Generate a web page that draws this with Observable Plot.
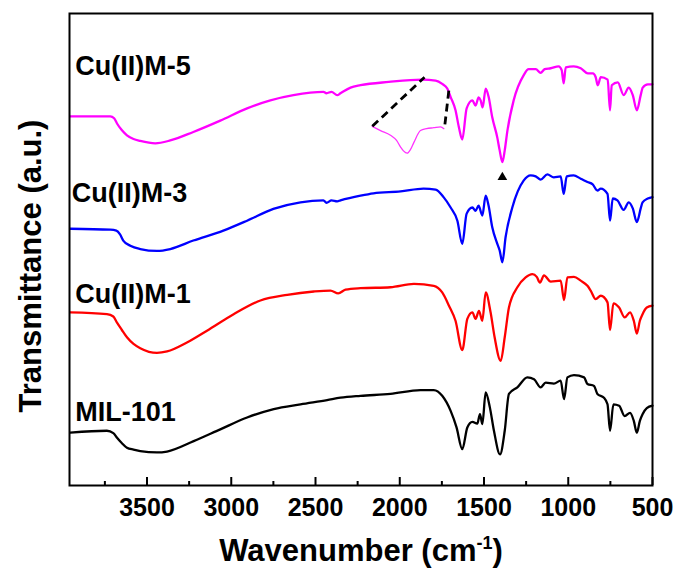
<!DOCTYPE html>
<html><head><meta charset="utf-8">
<script src="https://cdn.jsdelivr.net/npm/d3@7"></script>
<script src="https://cdn.jsdelivr.net/npm/@observablehq/plot@0.6"></script>
<style>
body{margin:0;background:#fff;}
svg{font-family: Arial, "Liberation Sans", sans-serif;}
</style>
</head><body><div id="chart"></div>
<script>
// ---- data (wavenumber in cm-1, transmittance in arbitrary units) ----
const cu5W = [3955,3718,3695,3678,3650,3619,3580,3540,3451,3362,3225,3065,2906,2768,2631,2453,2435,2405,2371,2352,2292,2233,2065,1866,1787,1748,1718,1698,1669,1649,1629,1603,1569,1550,1532,1520,1508,1490,1473,1451,1421,1407,1391,1377,1361,1324,1265,1235,1193,1164,1140,1104,1057,1039,1027,1015,968,926,884,854,837,825,807,766,752,742,706,671,641,617,593,570,558,528,500];
const cu5T = [78.2,78.2,77.8,76.7,75.3,74.2,73.4,73.0,72.5,73.1,74.9,77.3,79.9,81.6,82.7,83.4,83.1,83.4,82.7,83.1,84.3,84.8,85.5,86.0,85.8,85.1,84.1,82.3,79.5,75.9,73.3,79.9,81.6,80.5,82.2,81.6,80.1,84.1,82.4,78.0,73.7,71.0,68.5,71.0,75.2,81.6,86.9,88.2,88.2,87.4,88.2,88.4,88.8,88.0,85.2,88.6,88.8,88.4,87.3,87.3,86.5,84.8,86.5,86.0,79.5,84.8,85.4,82.7,84.3,82.7,79.5,82.7,84.3,85.0,85.0];

const cu3W = [3955,3718,3682,3660,3641,3599,3540,3441,3362,3225,3047,2906,2750,2589,2453,2435,2405,2371,2352,2233,2156,1995,1859,1787,1740,1698,1658,1629,1603,1569,1550,1532,1510,1490,1473,1451,1421,1407,1391,1372,1332,1265,1223,1193,1164,1124,1086,1045,1027,1009,968,926,886,855,827,807,767,752,736,708,671,641,617,593,570,559,528,500];
const cu3T = [54.4,54.2,54.0,53.2,51.9,50.8,50.1,49.7,50.1,51.9,54.0,56.1,58.6,60.0,60.4,59.9,60.4,60.2,60.4,61.4,61.9,62.3,62.9,62.7,61.1,58.9,56.1,51.2,57.6,58.9,58.2,59.3,57.2,61.4,59.3,54.7,51.2,49.8,47.3,52.6,58.9,64.6,65.7,65.5,64.8,65.9,65.3,65.5,61.8,65.5,65.7,65.0,64.3,63.8,62.5,62.9,61.8,56.1,60.8,60.4,58.4,60.0,58.7,55.8,58.7,60.0,60.8,61.1];

const cu1W = [3955,3738,3700,3678,3650,3619,3580,3540,3441,3381,3263,3144,2986,2827,2668,2510,2411,2365,2322,2233,2055,1916,1798,1748,1708,1669,1629,1599,1569,1550,1530,1510,1490,1461,1437,1401,1377,1352,1302,1253,1213,1187,1168,1144,1104,1045,1025,1005,966,926,886,867,837,807,767,752,732,698,665,633,611,593,575,559,534,500];
const cu1T = [36.7,36.3,35.8,34.5,33.0,31.4,30.0,29.1,28.1,28.4,30.3,32.8,36.3,39.2,40.4,41.1,41.3,40.7,41.5,41.8,42.0,42.7,42.3,40.9,38.1,34.9,28.7,35.3,36.7,35.3,37.0,34.9,40.9,36.7,31.4,26.4,31.4,37.7,42.0,44.1,44.8,44.2,43.0,44.5,43.2,43.4,39.3,44.1,44.2,43.4,42.3,41.3,39.5,40.2,38.8,32.9,38.6,37.7,35.6,36.7,34.9,32.2,34.9,36.3,37.7,38.1];

const milW = [3955,3738,3700,3678,3650,3619,3580,3540,3441,3381,3223,3065,2906,2748,2589,2431,2352,2233,2055,1877,1798,1748,1698,1663,1629,1599,1569,1540,1524,1510,1490,1465,1441,1405,1377,1352,1302,1243,1203,1164,1134,1085,1045,1025,1005,966,906,886,847,827,788,767,752,732,698,665,633,611,593,575,559,534,500];
const milT = [11.2,11.6,11.1,10.1,9.0,8.0,7.6,7.3,7.0,7.2,9.4,11.9,14.4,16.2,17.2,18.1,18.6,19.0,19.4,20.2,20.2,19.0,15.8,12.3,7.7,12.3,13.5,13.1,15.1,13.0,19.7,16.5,11.6,6.6,11.6,19.4,20.8,22.9,22.5,20.8,21.8,21.6,22.2,18.3,22.9,23.4,22.9,21.5,21.1,19.4,18.6,17.2,11.6,17.2,16.9,14.7,15.4,13.7,11.2,13.7,15.1,16.4,16.9];

// magnified inset of the ~1750 cm-1 band (drawn below the Cu(II)M-5 trace)
const insetW = [2163,2114,2055,2019,1995,1978,1956,1936,1916,1877,1841,1798,1758,1738];
const insetT = [76.1,75.2,74.2,73.1,71.7,70.9,70.4,71.2,72.7,75.2,75.6,75.8,76.0,75.6];

// dashed guide lines linking inset to the band
const linkFromW = [2163, 1732];
const linkFromT = [76.1, 76.5];
const linkToW = [1853, 1708];
const linkToT = [86.5, 83.9];

// arrow marking the 1384 cm-1 band
const arrowW = [1391];
const arrowT = [65.3];

// series labels
const seriesNames = ["Cu(II)M-5", "Cu(II)M-3", "Cu(II)M-1", "MIL-101"];
const seriesColors = ["#ff00ff", "#0000ff", "#ff0000", "#000000"];
const labelW = [3926, 3946, 3926, 3926];
const labelT = [88.8, 62.0, 40.4, 15.4];

// axis ticks
const majorTicks = [3500, 3000, 2500, 2000, 1500, 1000, 500];
const minorTicks = [3750, 3250, 2750, 2250, 1750, 1250, 750];

// ---- build ----
const rows = (ws, ts) => ws.map((w, i) => ({w, t: ts[i]})).filter(d => d.t != null);
const series = [rows(cu5W, cu5T), rows(cu3W, cu3T), rows(cu1W, cu1T), rows(milW, milT)];
const inset = rows(insetW, insetT);

const chart = Plot.plot({
  width: 681,
  height: 572,
  marginLeft: 69,
  marginRight: 29,
  marginTop: 13,
  marginBottom: 87,
  style: {fontFamily: "Arial, 'Liberation Sans', sans-serif", background: "white", color: "black"},
  x: {domain: [3960, 500]},
  y: {domain: [0, 100], axis: null},
  marks: [
    ...series.map((data, i) => Plot.line(data, {x: "w", y: "t", stroke: seriesColors[i], strokeWidth: 2.3, curve: "monotone-x"})),
    Plot.line(inset, {x: "w", y: "t", stroke: "#ff33ff", strokeWidth: 1.3, curve: "monotone-x"}),
    Plot.link(linkFromW, {
      x1: (d, i) => linkFromW[i], y1: (d, i) => linkFromT[i],
      x2: (d, i) => linkToW[i], y2: (d, i) => linkToT[i],
      stroke: "black", strokeWidth: 2.8, strokeDasharray: "8,5"
    }),
    Plot.dot(arrowW, {x: d => d, y: (d, i) => arrowT[i], symbol: "triangle", r: 3.6, fill: "black", stroke: "none"}),
    Plot.text(seriesNames, {
      x: (d, i) => labelW[i], y: (d, i) => labelT[i], text: d => d,
      textAnchor: "start", fontSize: 27, fontWeight: "bold", fill: "black"
    }),
    Plot.axisX(majorTicks, {tickSize: 0, tickPadding: 13, fontSize: 25, fontWeight: "bold", tickFormat: d => String(d), label: null}),
    Plot.axisX(majorTicks, {tickSize: -8, strokeWidth: 2, tickFormat: () => "", label: null}),
    Plot.axisX(minorTicks, {tickSize: -4, strokeWidth: 2, tickFormat: () => "", label: null}),
    Plot.frame({stroke: "black", strokeWidth: 2})
  ]
});

const svg = d3.select(chart);
svg.append("text")
  .attr("transform", "translate(41,266) rotate(-90)")
  .attr("text-anchor", "middle")
  .attr("font-size", 31)
  .attr("font-weight", "bold")
  .attr("fill", "black")
  .text("Transmittance (a.u.)");

const xt = svg.append("text")
  .attr("x", 361)
  .attr("y", 561)
  .attr("text-anchor", "middle")
  .attr("font-size", 31)
  .attr("font-weight", "bold")
  .attr("fill", "black");
xt.append("tspan").text("Wavenumber (cm");
xt.append("tspan").attr("font-size", 18).attr("dy", -12).text("-1");
xt.append("tspan").attr("dy", 12).text(")");

document.getElementById("chart").appendChild(chart);
</script>
</body></html>
